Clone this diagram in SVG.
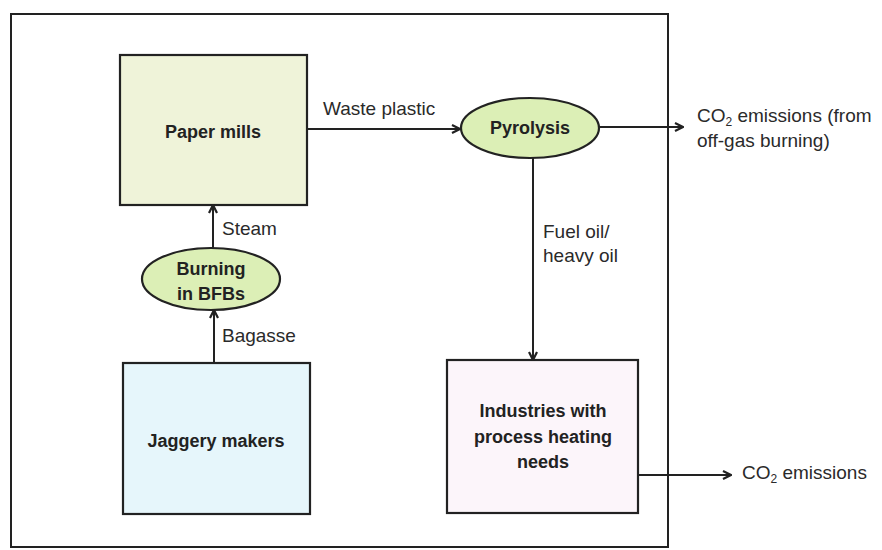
<svg xmlns="http://www.w3.org/2000/svg" width="882" height="550" viewBox="0 0 882 550">
<defs>
<marker id="arr" viewBox="0 0 10 10" refX="9" refY="5" markerWidth="10" markerHeight="10" markerUnits="userSpaceOnUse" orient="auto">
<path d="M1,1 L9,5 L1,9" fill="none" stroke="#222" stroke-width="2.2"/>
</marker>
<style>
.box{stroke:#222;stroke-width:2.2}
.t{font-family:"Liberation Sans",Arial,sans-serif;font-size:19px;fill:#2a2a2a}
.b{font-family:"Liberation Sans",Arial,sans-serif;font-size:18px;font-weight:bold;fill:#222;text-anchor:middle}
.c{stroke:#222;stroke-width:2;fill:none;marker-end:url(#arr)}
</style>
</defs>
<rect width="882" height="550" fill="#fff"/>
<rect id="frame" x="11" y="14" width="657" height="533" fill="none" stroke="#222" stroke-width="2"/>
<g id="paper-mills">
<rect class="box" x="120" y="55" width="187" height="150" fill="#EFF3D9"/>
<text class="b" x="213" y="138">Paper mills</text>
</g>
<g id="pyrolysis">
<ellipse class="box" cx="530" cy="128" rx="69" ry="30" fill="#DCEFB6"/>
<text class="b" x="530" y="134">Pyrolysis</text>
</g>
<g id="burning">
<ellipse class="box" cx="211" cy="279" rx="69" ry="31" fill="#DCEFB6"/>
<text class="b" x="211" y="275">Burning</text>
<text class="b" x="211" y="300">in BFBs</text>
</g>
<g id="jaggery">
<rect class="box" x="123" y="363" width="187" height="151" fill="#E6F6FB"/>
<text class="b" x="216" y="447">Jaggery makers</text>
</g>
<g id="industries">
<rect class="box" x="447" y="360" width="191" height="153" fill="#FCF5FA"/>
<text class="b" x="543" y="417">Industries with</text>
<text class="b" x="543" y="443">process heating</text>
<text class="b" x="543" y="468">needs</text>
</g>
<g id="connectors">
<line class="c" x1="307" y1="129" x2="460" y2="129"/>
<line class="c" x1="599" y1="127" x2="683" y2="127"/>
<line class="c" x1="533" y1="158" x2="533" y2="360"/>
<line class="c" x1="213" y1="248" x2="213" y2="205"/>
<line class="c" x1="214" y1="363" x2="214" y2="310"/>
<line class="c" x1="638" y1="475" x2="731" y2="475"/>
</g>
<g id="labels">
<text class="t" x="323" y="115" font-size="20">Waste plastic</text>
<text class="t" x="697" y="122">CO<tspan font-size="12" dy="4">2</tspan><tspan dy="-4"> emissions (from</tspan></text>
<text class="t" x="697" y="147">off-gas burning)</text>
<text class="t" x="222" y="235">Steam</text>
<text class="t" x="222" y="342">Bagasse</text>
<text class="t" x="543" y="238">Fuel oil/</text>
<text class="t" x="543" y="262">heavy oil</text>
<text class="t" x="742" y="479">CO<tspan font-size="12" dy="4">2</tspan><tspan dy="-4"> emissions</tspan></text>
</g>
</svg>
